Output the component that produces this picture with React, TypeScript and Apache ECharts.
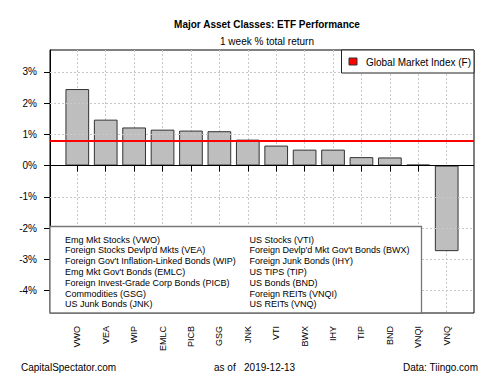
import React, { useEffect, useRef } from "react";
import * as echarts from "echarts";

const tickers = ["VWO", "VEA", "WIP", "EMLC", "PICB", "GSG", "JNK", "VTI", "BWX", "IHY", "TIP", "BND", "VNQI", "VNQ"];
const returns = [2.45, 1.47, 1.22, 1.15, 1.12, 1.1, 0.83, 0.64, 0.51, 0.51, 0.27, 0.26, 0.03, -2.74];
const globalMarketIndex = 0.79;
const yTicks = [-4, -3, -2, -1, 0, 1, 2, 3];
const yMin = -4.72;
const yMax = 3.7;
const legendLeft = [
  "Emg Mkt Stocks (VWO)",
  "Foreign Stocks Devlp'd Mkts (VEA)",
  "Foreign Gov't Inflation-Linked Bonds (WIP)",
  "Emg Mkt Gov't Bonds (EMLC)",
  "Foreign Invest-Grade Corp Bonds (PICB)",
  "Commodities (GSG)",
  "US Junk Bonds (JNK)",
];
const legendRight = [
  "US Stocks (VTI)",
  "Foreign Devlp'd Mkt Gov't Bonds (BWX)",
  "Foreign Junk Bonds (IHY)",
  "US TIPS (TIP)",
  "US Bonds (BND)",
  "Foreign REITs (VNQI)",
  "US REITs (VNQ)",
];
const titleText = "Major Asset Classes: ETF Performance";
const subtitleText = "1 week % total return";
const indexLabel = "Global Market Index (F)";
const footLeft = "CapitalSpectator.com";
const footMid = "as of   2019-12-13";
const footRight = "Data: Tiingo.com";

const FONT = "'Liberation Sans', Arial, sans-serif";

export default function App() {
  const ref = useRef<HTMLDivElement>(null);
  useEffect(() => {
    if (!ref.current) return;
    const chart = echarts.init(ref.current, undefined, { renderer: "svg" });
    const grid = "#c8c8c8";
    const legendTexts: any[] = [];
    legendLeft.forEach((t, i) => {
      legendTexts.push({
        type: "text",
        x: 65,
        y: 239.5 + i * 10.8,
        style: { text: t, fontSize: 9, fontFamily: FONT, fill: "#000", textVerticalAlign: "middle" },
      });
    });
    legendRight.forEach((t, i) => {
      legendTexts.push({
        type: "text",
        x: 249.5,
        y: 239.5 + i * 10.8,
        style: { text: t, fontSize: 9, fontFamily: FONT, fill: "#000", textVerticalAlign: "middle" },
      });
    });
    chart.setOption({
      animation: false,
      textStyle: { fontFamily: FONT },
      title: [
        {
          text: titleText,
          left: 262,
          top: 14,
          textAlign: "center",
          textStyle: { fontSize: 10, fontWeight: "bold", color: "#000", fontFamily: FONT },
        },
        {
          text: subtitleText,
          left: 262,
          top: 31,
          textAlign: "center",
          textStyle: { fontSize: 10, fontWeight: "normal", color: "#000", fontFamily: FONT },
        },
      ],
      grid: [
        { left: 50, right: 26, top: 50, bottom: 62, show: true, borderColor: "#000", borderWidth: 1, backgroundColor: "transparent" },
        { left: 77.3, right: 53.3, top: 50, bottom: 62 },
      ],
      xAxis: [
        { type: "value", gridIndex: 0, min: 0, max: 1, show: false },
        {
          type: "category",
          gridIndex: 1,
          data: tickers,
          boundaryGap: false,
          axisLine: { show: false },
          axisTick: { show: true, length: 6, lineStyle: { color: "#000" } },
          axisLabel: { rotate: 90, fontSize: 9, margin: 13, color: "#000", fontFamily: FONT, interval: 0 },
          splitLine: { show: true, lineStyle: { color: grid, type: [2, 2], width: 1 } },
        },
      ],
      yAxis: [
        {
          type: "value",
          gridIndex: 0,
          min: yMin,
          max: yMax,
          axisLine: { show: true, lineStyle: { color: "#000" } },
          axisTick: { show: true, length: 6, lineStyle: { color: "#000" }, customValues: yTicks },
          axisLabel: {
            fontSize: 10,
            margin: 13,
            color: "#000",
            fontFamily: FONT,
            customValues: yTicks,
            formatter: (v: number) => `${v}%`,
          },
          splitLine: { show: false },
        },
        { type: "value", gridIndex: 1, min: yMin, max: yMax, show: false },
      ],
      series: [
        {
          type: "line",
          xAxisIndex: 0,
          yAxisIndex: 0,
          data: [],
          z: 1,
          markLine: {
            silent: true,
            symbol: "none",
            label: { show: false },
            lineStyle: { color: grid, width: 1, type: [2, 2] },
            data: yTicks.filter((v) => v !== 0).map((v) => ({ yAxis: v })),
          },
        },
        {
          type: "bar",
          xAxisIndex: 1,
          yAxisIndex: 1,
          data: returns,
          barWidth: 23.7,
          clip: false,
          z: 2,
          itemStyle: { color: "#bebebe", borderColor: "#333", borderWidth: 1 },
        },
        {
          type: "line",
          xAxisIndex: 0,
          yAxisIndex: 0,
          data: [],
          z: 5,
          markLine: {
            silent: true,
            symbol: "none",
            label: { show: false },
            data: [
              { yAxis: 0, lineStyle: { color: "#000", width: 1, type: "solid" } },
              { yAxis: globalMarketIndex, lineStyle: { color: "#ff0000", width: 2, type: "solid" } },
            ],
          },
        },
      ],
      graphic: [
        {
          type: "group",
          z: 100,
          children: [
            { type: "rect", z: 100, shape: { x: 341.5, y: 50, width: 132.5, height: 23 }, style: { fill: "#fff", stroke: "#222", lineWidth: 1 } },
            { type: "rect", z: 101, shape: { x: 349, y: 58, width: 8, height: 7 }, style: { fill: "#ff0000", stroke: "#333", lineWidth: 1 } },
            {
              type: "text",
              z: 101,
              x: 366,
              y: 62,
              style: { text: indexLabel, fontSize: 10, fontFamily: FONT, fill: "#000", textVerticalAlign: "middle" },
            },
            { type: "rect", z: 100, shape: { x: 50, y: 226.5, width: 371.5, height: 86.5 }, style: { fill: "#fff", stroke: "#777", lineWidth: 1.3 } },
            ...legendTexts.map((t) => ({ ...t, z: 101 })),
            {
              type: "text",
              z: 101,
              x: 21,
              y: 367,
              style: { text: footLeft, fontSize: 10, fontFamily: FONT, fill: "#000", textVerticalAlign: "middle" },
            },
            {
              type: "text",
              z: 101,
              x: 214,
              y: 367,
              style: { text: footMid, fontSize: 10, fontFamily: FONT, fill: "#000", textVerticalAlign: "middle" },
            },
            {
              type: "text",
              z: 101,
              x: 478,
              y: 367,
              style: { text: footRight, fontSize: 10, fontFamily: FONT, fill: "#000", textVerticalAlign: "middle", textAlign: "right" },
            },
          ],
        },
      ],
    });
    return () => chart.dispose();
  }, []);
  return <div ref={ref} style={{ width: 500, height: 375, position: "absolute", left: 0, top: 0 }} />;
}
